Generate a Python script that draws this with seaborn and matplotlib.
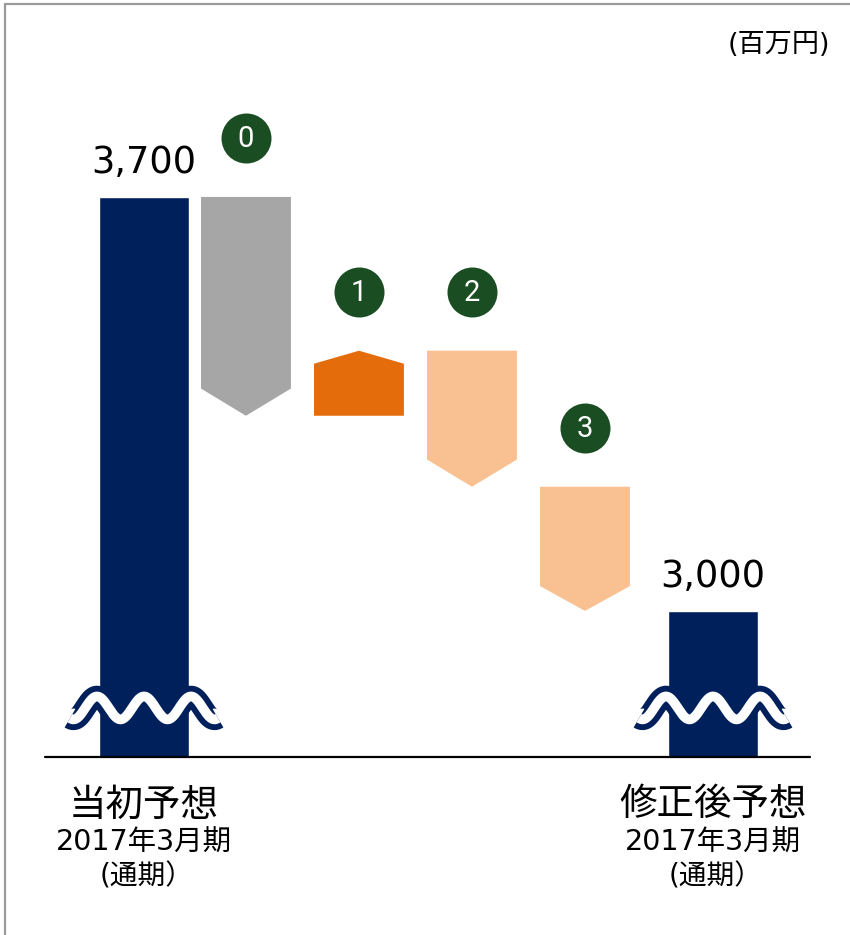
import numpy as np
import pandas as pd
import matplotlib
matplotlib.use("Agg")
import matplotlib.pyplot as plt
import matplotlib.transforms as mtransforms
from matplotlib.lines import Line2D
import seaborn as sns

# Full-year forecasts (million yen) and the revision items that bridge them
totals_labels = ["当初予想", "修正後予想"]
totals_values = [3700, 3000]
period_label = "2017年3月期"
scope_label = "(通期）"
step_labels = ["0", "1", "2", "3"]
step_values = [-370, 110, -230, -210]
unit_label = "(百万円)"

# Styling / layout
NAVY = "#00205b"
GREEN = "#1b4d23"
step_colors = ["#a6a6a6", "#e46c0a", "#f9c191", "#f9c191"]
step_pos = [0.896, 1.889, 2.882, 3.875]
BAR_W = 0.79
Y_FLOOR = 2753          # broken axis: bars stand on this level
WAVE_Y = 2836

sns.set_theme(style="white")
plt.rcParams["font.family"] = ["DejaVu Sans", "Noto Sans CJK JP"]

fig = plt.figure(figsize=(8.5, 9.35), dpi=100)
fig.patch.set_facecolor("white")
ax = fig.add_axes([0, 178 / 935, 1, 757 / 935])

slots = [totals_labels[0]] + step_labels + [totals_labels[1]]
df = pd.DataFrame({"item": totals_labels, "value": totals_values})
sns.barplot(data=df, x="item", y="value", order=slots, color=NAVY,
            width=BAR_W, saturation=1, ax=ax, zorder=2)

ax.set_xlim(-1.2654, 6.2039)
ax.set_ylim(Y_FLOOR, 4033)
ax.axis("off")

# Revision steps drawn as arrow-shaped blocks
level = totals_values[0]
half = BAR_W / 2
for x, v, c, lab in zip(step_pos, step_values, step_colors, step_labels):
    start, end = level, level + v
    head = np.sign(v) * min(0.2 * abs(v), 46)
    shoulder = end - head
    xs = [x - half, x + half, x + half, x, x - half]
    ys = [start, start, shoulder, end, shoulder]
    ax.fill(xs, ys, color=c, lw=0, zorder=2)
    top = max(start, end)
    ax.scatter([x], [top + 100], s=1296, color=GREEN, lw=0, zorder=3)
    ax.text(x, top + 98, lab, color="white", ha="center", va="center",
            fontsize=21, family="Roboto", zorder=4)
    level = end

# Value labels on the forecast bars
for lab, v in zip(totals_labels, totals_values):
    ax.annotate(f"{v:,}", xy=(slots.index(lab), v), xytext=(0, 17),
                textcoords="offset points", ha="center", va="baseline",
                fontsize=26.5, color="black", family="DejaVu Sans")

# Axis-break waves across the forecast bars
t = np.linspace(-0.65, 0.65, 400)
wave = 19.4 * np.cos(2 * np.pi * t / 0.413)
for lab in totals_labels:
    xc = slots.index(lab)
    ax.plot(xc + t, WAVE_Y + wave, color=NAVY, lw=15.5,
            solid_capstyle="butt", zorder=5, clip_on=False)
    ax.plot(xc + t, WAVE_Y + wave, color="white", lw=7,
            solid_capstyle="butt", zorder=6, clip_on=False)

# Baseline
ax.plot([-0.87, 5.85], [Y_FLOOR, Y_FLOOR], color="black", lw=1.6,
        clip_on=False, zorder=7)

# Category labels under the baseline
trans = mtransforms.blended_transform_factory(ax.transData, fig.transFigure)
for lab in totals_labels:
    xc = slots.index(lab)
    ax.text(xc, 1 - 805 / 935, lab, transform=trans, ha="center", va="center",
            fontsize=27, family=["Noto Sans CJK JP"], color="black")
    ax.text(xc, 1 - 843 / 935, period_label, transform=trans, ha="center",
            va="center", fontsize=20.5, color="black")
    ax.text(xc + 0.02, 1 - 877 / 935, scope_label, transform=trans,
            ha="center", va="center", fontsize=20, color="black")

# Unit note
fig.text(830 / 850, 1 - 45 / 935, unit_label, ha="right", va="center",
         fontsize=19.5, color="black")

# Panel frame (top and left edges)
frame_kw = dict(color="#9a9a9a", lw=1.6)
fig.add_artist(Line2D([5 / 850, 1], [1 - 4 / 935, 1 - 4 / 935], **frame_kw))
fig.add_artist(Line2D([5 / 850, 5 / 850], [0, 1 - 4 / 935], **frame_kw))

fig.savefig("out.png", dpi=100, facecolor="white")
